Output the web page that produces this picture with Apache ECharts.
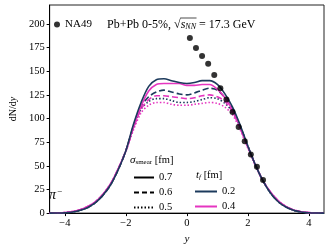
<!DOCTYPE html>
<html><head><meta charset="utf-8">
<script src="https://cdn.jsdelivr.net/npm/echarts@6/dist/echarts.min.js"></script>
<style>html,body{margin:0;padding:0;background:#fff}#c{width:329px;height:250px}</style>
</head><body><div id="c"></div>
<script>
// rapidity grid
const yGrid = [-4.5,-4.25,-4.0,-3.75,-3.5,-3.25,-3.0,-2.75,-2.5,-2.25,-2.0,-1.75,-1.5,-1.25,-1.0,-0.75,-0.5,-0.25,0,0.25,0.5,0.75,1.0,1.25,1.5,1.75,2.0,2.25,2.5,2.75,3.0,3.25,3.5,3.75,4.0,4.25,4.5];
// sigma_smear = 0.7, t_f = 0.2
const s07_t02 = [0,0.1,0.4,1.2,3,6,11,19,30,46,66,94,117,134,141,142,140,138,137,138,140,140,136,126,112,93,71,51,34,21,12,6.5,3,1.2,0.4,0.1,0];
// sigma_smear = 0.7, t_f = 0.4
const s07_t04 = [0,0.2,0.6,1.6,3.6,7,12,20,31,47,66,91,113,129,136,137,137,137,135,135,136,136,131,122,109,91,70,51,34,22,13,7,3.4,1.5,0.5,0.1,0];
// sigma_smear = 0.6, t_f = 0.2
const s06_t02 = [0,0.1,0.4,1.2,3,6,11,19,30,46,66,92,113,123,128,130,128,126,125,127,130,132,130,122,110,92,71,51,34,21,12,6.5,3,1.2,0.4,0.1,0];
// sigma_smear = 0.6, t_f = 0.4
const s06_t04 = [0,0.2,0.6,1.6,3.6,7,12,20,31,47,66,90,110,120,124,124,123,122,121,122,124,125,123,118,107,90,70,51,34,22,13,7,3.4,1.5,0.5,0.1,0];
// sigma_smear = 0.5, t_f = 0.2
const s05_t02 = [0,0.1,0.4,1.2,3,6,11,19,30,46,66,91,110,118,121,121,119,117,117,118,120,122,121,116,107,91,71,51,34,21,12,6.5,3,1.2,0.4,0.1,0];
// sigma_smear = 0.5, t_f = 0.4
const s05_t04 = [0,0.2,0.6,1.6,3.6,7,12,20,31,47,65,88,106,114,117,117,115,114,114,115,116,117,116,112,104,88,69,50,34,22,13,7,3.4,1.5,0.5,0.1,0];
// NA49 data
const na49Y = [0.1,0.3,0.5,0.7,0.9,1.1,1.3,1.5,1.7,1.9,2.1,2.3,2.5];
const na49V = [185,174.5,166,158,146,132,120,107,91,76,62,49,35];
const xTicks = [-4,-2,0,2,4];
const yTicks = [0,25,50,75,100,125,150,175,200];

const NAVY = '#1c3a5c', MAG = '#e535c0';
const FONT = 'Liberation Serif';
const pair = (xs, vs) => xs.map((x,i)=>[x, vs[i]]);
const dashT = [6,3], dotT = [1.5,2];
function line(name, data, color, type, z){
  return {type:'line', name, data: pair(yGrid, data), showSymbol:false, symbol:'none', smooth:0.3,
    lineStyle:{color, width:1.6, type}, itemStyle:{color}, z};
}
function dummy(name, color, type){
  return {type:'line', name, data:[], symbol:'none', showSymbol:false, lineStyle:{color, width:1.6, type}, itemStyle:{color}};
}
// measure header text for overline placement
const mc = document.createElement('canvas').getContext('2d');
function tw(t, f){ mc.font = f; return mc.measureText(t).width; }
const HFS = 12, HSUB = 8, HX = 107, HTOP = 18;
const pre = tw('Pb+Pb 0-5%, \u221A', HFS+'px "'+FONT+'"');
const sW = tw('s', 'italic '+HFS+'px "'+FONT+'"');
const nnW = tw('NN', 'italic '+HSUB+'px "'+FONT+'"');
const olX1 = HX + pre - 0.5, olX2 = HX + pre + sW + nnW + 0.5;

const legText = {fontFamily:FONT, fontSize:10.5, color:'#000'};
const chart = echarts.init(document.getElementById('c'), null, {renderer:'canvas'});
chart.setOption({
  animation:false,
  textStyle:{fontFamily:FONT},
  grid:{left:40, right:5, top:5, bottom:35, show:true, borderColor:'#222', borderWidth:1, backgroundColor:'transparent'},
  xAxis:{type:'value', min:-4.5, max:4.5,
    name:'y', nameLocation:'middle', nameGap:19, nameTextStyle:{fontFamily:FONT, fontStyle:'italic', fontSize:11, color:'#000'},
    axisLine:{show:true, onZero:false, lineStyle:{color:'#000', width:1}},
    axisTick:{show:true, customValues:xTicks, length:3, lineStyle:{color:'#000'}},
    axisLabel:{customValues:xTicks, fontFamily:FONT, fontSize:10.5, color:'#000', margin:5, formatter:v=> v<0 ? '\u2212'+(-v) : String(v)},
    splitLine:{show:false}},
  yAxis:{type:'value', min:0, max:220,
    name:'dN/d{i|y}', nameLocation:'middle', nameGap:31,
    nameTextStyle:{fontFamily:FONT, fontSize:10, color:'#000', rich:{i:{fontFamily:FONT, fontStyle:'italic', fontSize:10, color:'#000'}}},
    axisLine:{show:true, onZero:false, lineStyle:{color:'#000', width:1}},
    axisTick:{show:true, customValues:yTicks, length:3, lineStyle:{color:'#000'}},
    axisLabel:{customValues:yTicks, fontFamily:FONT, fontSize:10.5, color:'#000', margin:5},
    splitLine:{show:false}},
  legend:[
    {data:[{name:'NA49', icon:'circle'}], left:54, top:19, padding:0, itemWidth:6, itemHeight:6, itemTextGap:7, selectedMode:false,
      textStyle:{fontFamily:FONT, fontSize:11, color:'#000'}},
    {data:['0.7','0.6','0.5'], orient:'vertical', left:133, top:172, padding:0, itemWidth:20, itemHeight:10, itemGap:4, itemTextGap:9, selectedMode:false,
      itemStyle:{opacity:0}, textStyle:legText},
    {data:['0.2','0.4'], orient:'vertical', left:194, top:186, padding:0, itemWidth:22, itemHeight:10, itemGap:4, itemTextGap:8, selectedMode:false,
      itemStyle:{opacity:0}, textStyle:legText}
  ],
  graphic:[
    {type:'text', x:HX, y:HTOP, style:{text:'Pb+Pb 0-5%, \u221A{i|s}{sub|NN} = 17.3 GeV', fontFamily:FONT, fontSize:HFS, fill:'#000',
      rich:{i:{fontFamily:FONT, fontStyle:'italic', fontSize:HFS}, sub:{fontFamily:FONT, fontStyle:'italic', fontSize:HSUB, padding:[5,0,0,0]}}}},
    {type:'line', shape:{x1:olX1, y1:HTOP, x2:olX2, y2:HTOP}, style:{stroke:'#000', lineWidth:0.7}},
    {type:'text', x:130, y:155, style:{text:'{s|\u03C3}{sub|smear} [fm]', fontFamily:FONT, fontSize:10.5, fill:'#000',
      rich:{s:{fontFamily:FONT, fontStyle:'italic', fontSize:11}, sub:{fontFamily:FONT, fontSize:7, padding:[4,0,0,0]}}}},
    {type:'text', x:196, y:170, style:{text:'{t|t}{sub|f} [fm]', fontFamily:FONT, fontSize:10.5, fill:'#000',
      rich:{t:{fontFamily:FONT, fontStyle:'italic', fontSize:11}, sub:{fontFamily:FONT, fontStyle:'italic', fontSize:7, padding:[4,0,0,0]}}}},
    {type:'text', x:49, y:187, style:{text:'{p|\u03C0}{sup|\u2212}', fontFamily:FONT, fontSize:14, fill:'#000',
      rich:{p:{fontFamily:FONT, fontStyle:'italic', fontSize:14}, sup:{fontFamily:FONT, fontSize:9, padding:[0,0,8,1]}}}}
  ],
  series:[
    line('a', s05_t04, MAG, dotT, 2),
    line('b', s05_t02, NAVY, dotT, 2),
    line('c', s06_t04, MAG, dashT, 3),
    line('d', s06_t02, NAVY, dashT, 3),
    line('e', s07_t04, MAG, 'solid', 4),
    line('f', s07_t02, NAVY, 'solid', 4),
    {type:'scatter', name:'NA49', data: pair(na49Y, na49V), symbol:'circle', symbolSize:6, itemStyle:{color:'#000'}, z:6},
    dummy('0.7', '#000', 'solid'),
    dummy('0.6', '#000', [5,3]),
    dummy('0.5', '#000', [1.5,2]),
    dummy('0.2', NAVY, 'solid'),
    dummy('0.4', MAG, 'solid')
  ]
});
</script></body></html>
